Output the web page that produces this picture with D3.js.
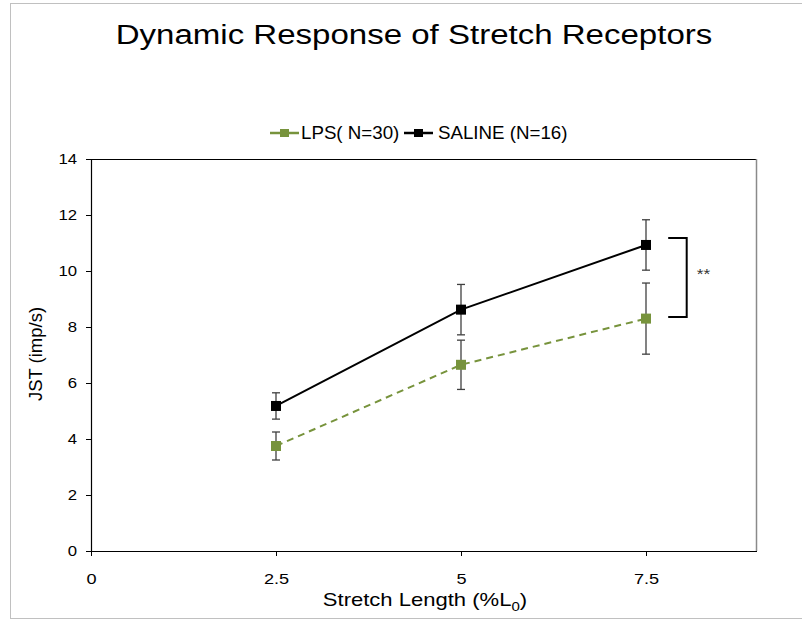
<!DOCTYPE html>
<html>
<head>
<meta charset="utf-8">
<script src="https://cdn.jsdelivr.net/npm/d3@7"></script>
<style>
  html, body { margin: 0; padding: 0; background: #fff; }
  svg { display: block; font-family: "Liberation Sans", Arial, sans-serif; }
</style>
</head>
<body>
<svg id="chart" width="802" height="620"></svg>
<script>
// Stretch lengths (% L0)
const stretch = [2.5, 5, 7.5];
// Mean JST (imp/s) and error-bar half widths
const lpsMean = [3.75, 6.65, 8.3];
const lpsErr = [0.5, 0.88, 1.27];
const salineMean = [5.18, 8.62, 10.93];
const salineErr = [0.47, 0.9, 0.9];
const seriesNames = ["LPS( N=30)", "SALINE (N=16)"];
const xTicks = [0, 2.5, 5, 7.5];
const yTicks = [0, 2, 4, 6, 8, 10, 12, 14];
// Significance bracket between the two series at the last stretch length
const bracketX = [7.8, 8.05];
const bracketY = [11.18, 8.36];
const bracketLabel = "**";

const svg = d3.select("#chart");
const plot = { left: 91, top: 159, right: 757, bottom: 551 };

// horizontal text widening, anchored at the text's own x/y
function widen(sel, k) {
  sel.each(function () {
    const t = d3.select(this);
    const tx = +t.attr("x") || 0, ty = +t.attr("y") || 0;
    t.attr("transform", `translate(${tx},${ty}) scale(${k},1) translate(${-tx},${-ty})`);
  });
}

// outer chart frame
svg.append("rect")
  .attr("x", 10.5).attr("y", 3.5).attr("width", 800).attr("height", 615)
  .attr("fill", "#fff").attr("stroke", "#c0c0c0").attr("stroke-width", 1);

const x = d3.scaleLinear().domain([0, 9]).range([plot.left, plot.right]);
const y = d3.scaleLinear().domain([0, 14]).range([plot.bottom, plot.top]);

// plot frame: top black, right grey
svg.append("line").attr("x1", plot.left).attr("x2", plot.right)
  .attr("y1", plot.top + 0.5).attr("y2", plot.top + 0.5)
  .attr("stroke", "#000").attr("stroke-width", 1);
svg.append("line").attr("x1", plot.right - 0.5).attr("x2", plot.right - 0.5)
  .attr("y1", plot.top).attr("y2", plot.bottom)
  .attr("stroke", "#8a8a8a").attr("stroke-width", 1.5);

// axes
const yAxis = svg.append("g").attr("transform", `translate(${plot.left},0)`)
  .call(d3.axisLeft(y).tickValues(yTicks).tickSize(5).tickPadding(9).tickFormat(d3.format("d")));
const xAxis = svg.append("g").attr("transform", `translate(0,${plot.bottom})`)
  .call(d3.axisBottom(x).tickValues(xTicks).tickSize(5).tickPadding(17).tickFormat(d => String(d)));
[yAxis, xAxis].forEach(g => {
  g.select(".domain").attr("stroke", "#000").attr("stroke-width", 1.2);
  g.selectAll(".tick line").attr("stroke", "#000");
  g.selectAll("text").attr("font-size", 15.5).attr("fill", "#000")
    .attr("font-family", "Liberation Sans, Arial, sans-serif");
});
xAxis.select(".domain").attr("d", `M${plot.left},0.5H${plot.right}`);
widen(xAxis.selectAll(".tick text"), 1.17);
widen(yAxis.selectAll(".tick text"), 1.08);

// title
widen(svg.append("text").attr("x", 414).attr("y", 44).attr("text-anchor", "middle")
  .attr("font-size", 28).attr("fill", "#000").text("Dynamic Response of Stretch Receptors"), 1.18);

// axis titles
svg.append("text").attr("transform", "translate(42,354) rotate(-90)")
  .attr("text-anchor", "middle").attr("font-size", 18.5).attr("fill", "#000").text("JST (imp/s)");
const xt = svg.append("text").attr("x", 425).attr("y", 606).attr("text-anchor", "middle")
  .attr("font-size", 19).attr("fill", "#000");
xt.append("tspan").text("Stretch Length (%L");
xt.append("tspan").attr("font-size", 13).attr("dy", 5).text("0");
xt.append("tspan").attr("dy", -5).text(")");
widen(xt, 1.16);

const series = [
  { name: seriesNames[0], mean: lpsMean, err: lpsErr, color: "#77933c", dash: "7,5", width: 2 },
  { name: seriesNames[1], mean: salineMean, err: salineErr, color: "#000", dash: null, width: 2 }
];

const line = d3.line().x(d => x(d[0])).y(d => y(d[1]));
const cap = 4;

series.forEach(s => {
  const pts = stretch.map((v, i) => [v, s.mean[i], s.err[i]]);
  // error bars
  const eb = svg.append("g");
  pts.forEach(p => {
    const cx = x(p[0]), y1 = y(p[1] + p[2]), y2 = y(p[1] - p[2]);
    eb.append("line").attr("x1", cx).attr("x2", cx).attr("y1", y1).attr("y2", y2)
      .attr("stroke", "#404040").attr("stroke-width", 1.3);
    [y1, y2].forEach(yy => eb.append("line").attr("x1", cx - cap).attr("x2", cx + cap)
      .attr("y1", yy).attr("y2", yy).attr("stroke", "#404040").attr("stroke-width", 1.3));
  });
  svg.append("path").datum(pts).attr("d", line).attr("fill", "none")
    .attr("stroke", s.color).attr("stroke-width", s.width)
    .attr("stroke-dasharray", s.dash);
  svg.selectAll(null).data(pts).enter().append("rect")
    .attr("x", d => x(d[0]) - 5).attr("y", d => y(d[1]) - 5)
    .attr("width", 10).attr("height", 10).attr("fill", s.color);
});

// significance bracket
svg.append("path")
  .attr("d", `M${x(bracketX[0])},${y(bracketY[0])}H${x(bracketX[1])}V${y(bracketY[1])}H${x(bracketX[0])}`)
  .attr("fill", "none").attr("stroke", "#000").attr("stroke-width", 2);
widen(svg.append("text").attr("x", x(bracketX[1]) + 10).attr("y", y((bracketY[0] + bracketY[1]) / 2) + 2)
  .attr("font-size", 15).attr("fill", "#333").text(bracketLabel), 1.15);

// legend
const legend = [
  { sx: 270, tx: 301, s: series[0] },
  { sx: 404, tx: 438, s: series[1] }
];
legend.forEach(l => {
  const g = svg.append("g");
  g.append("line").attr("x1", l.sx).attr("x2", l.sx + 29).attr("y1", 133).attr("y2", 133)
    .attr("stroke", l.s.color).attr("stroke-width", 2.5);
  g.append("rect").attr("x", l.sx + 10).attr("y", 129).attr("width", 9).attr("height", 8)
    .attr("fill", l.s.color);
  widen(g.append("text").attr("x", l.tx).attr("y", 139).attr("font-size", 17.5)
    .attr("fill", "#000").text(l.s.name), 1.07);
});
</script>
</body>
</html>
